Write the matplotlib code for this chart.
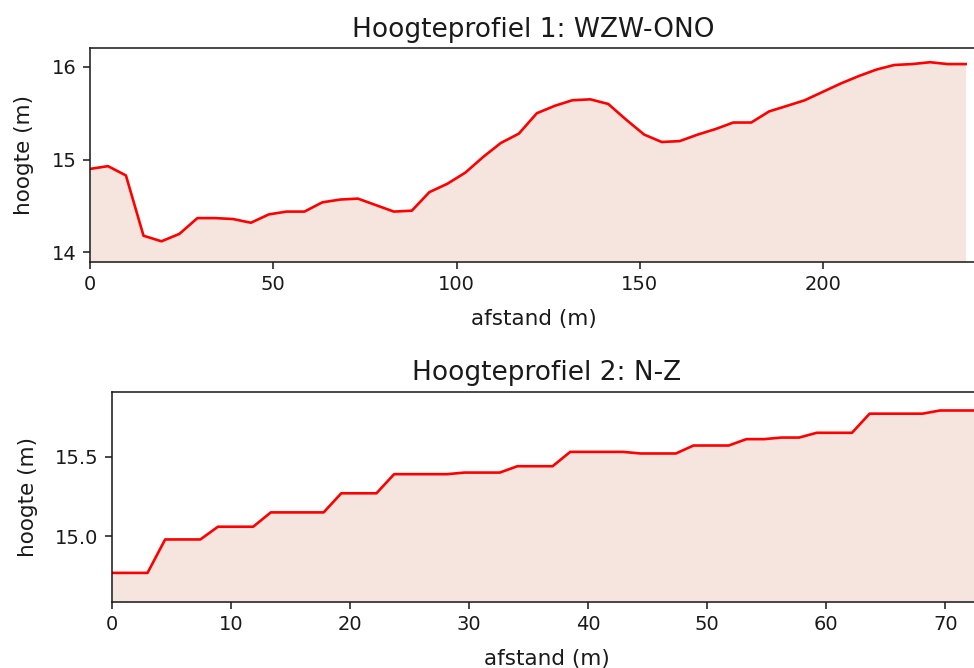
import matplotlib
matplotlib.use("Agg")
import matplotlib.pyplot as plt

# ---- data: profile 1 (WZW-ONO) ----
afstand1 = [0.0, 4.9, 9.8, 14.6, 19.5, 24.4, 29.3, 34.1, 39.0, 43.9, 48.8, 53.6, 58.5,
            63.4, 68.3, 73.1, 78.0, 82.9, 87.8, 92.6, 97.5, 102.4, 107.3, 112.1, 117.0,
            121.9, 126.8, 131.6, 136.5, 141.4, 146.3, 151.2, 156.0, 160.9, 165.8, 170.7,
            175.5, 180.4, 185.3, 190.2, 195.0, 199.9, 204.8, 209.7, 214.5, 219.4, 224.3,
            229.2, 234.0, 238.9]
hoogte1 = [14.90, 14.93, 14.83, 14.18, 14.12, 14.20, 14.37, 14.37, 14.36, 14.32, 14.41,
           14.44, 14.44, 14.54, 14.57, 14.58, 14.51, 14.44, 14.45, 14.65, 14.74, 14.86,
           15.03, 15.18, 15.28, 15.50, 15.58, 15.64, 15.65, 15.60, 15.43, 15.27, 15.19,
           15.20, 15.27, 15.33, 15.40, 15.40, 15.52, 15.58, 15.64, 15.73, 15.82, 15.90,
           15.97, 16.02, 16.03, 16.05, 16.03, 16.03]

# ---- data: profile 2 (N-Z) ----
afstand2 = [0.00, 1.48, 2.96, 4.44, 5.92, 7.40, 8.88, 10.36, 11.84, 13.32, 14.80, 16.28,
            17.76, 19.24, 20.72, 22.20, 23.68, 25.16, 26.64, 28.12, 29.60, 31.08, 32.56,
            34.04, 35.52, 37.00, 38.48, 39.96, 41.44, 42.92, 44.40, 45.88, 47.36, 48.84,
            50.32, 51.80, 53.28, 54.76, 56.24, 57.72, 59.20, 60.68, 62.16, 63.64, 65.12,
            66.60, 68.08, 69.56, 71.04, 72.52]
hoogte2 = [14.77, 14.77, 14.77, 14.98, 14.98, 14.98, 15.06, 15.06, 15.06, 15.15, 15.15,
           15.15, 15.15, 15.27, 15.27, 15.27, 15.39, 15.39, 15.39, 15.39, 15.40, 15.40,
           15.40, 15.44, 15.44, 15.44, 15.53, 15.53, 15.53, 15.53, 15.52, 15.52, 15.52,
           15.57, 15.57, 15.57, 15.61, 15.61, 15.62, 15.62, 15.65, 15.65, 15.65, 15.77,
           15.77, 15.77, 15.77, 15.79, 15.79, 15.79]

titles = ["Hoogteprofiel 1: WZW-ONO", "Hoogteprofiel 2: N-Z"]
xlabel = "afstand (m)"
ylabel = "hoogte (m)"

W, H = 974, 668
fig = plt.figure(figsize=(W / 100, H / 100), dpi=100)

fill_col = "#f6e5df"
line_col = "#ff0000"
txt_col = "#1a1a1a"


def make_axes(left_px, top_px, bottom_px, right_px):
    return fig.add_axes([left_px / W, 1 - bottom_px / H,
                         (right_px - left_px) / W, (bottom_px - top_px) / H])


ax1 = make_axes(90.0, 48.3, 261.7, 977.0)
ax2 = make_axes(112.3, 391.7, 601.7, 981.0)

specs = [
    (ax1, afstand1, hoogte1, (0, 242.0), (13.90, 16.20), [14, 15, 16], ["14", "15", "16"],
     [0, 50, 100, 150, 200]),
    (ax2, afstand2, hoogte2, (0, 73.0), (14.589, 15.908), [15.0, 15.5], ["15.0", "15.5"],
     [0, 10, 20, 30, 40, 50, 60, 70]),
]

for ax, x, y, xl, yl, yt, ytl, xt in specs:
    ax.fill_between(x, y, yl[0], color=fill_col, linewidth=0)
    ax.plot(x, y, color=line_col, linewidth=1.9)
    ax.set_xlim(*xl)
    ax.set_ylim(*yl)
    ax.set_yticks(yt)
    ax.set_yticklabels(ytl)
    ax.set_xticks(xt)
    ax.tick_params(labelsize=14, length=4.9, width=1.12, pad=4.9, colors=txt_col,
                   labelcolor=txt_col)
    for s in ax.spines.values():
        s.set_linewidth(1.12)
        s.set_color(txt_col)
    ax.set_xlabel(xlabel, fontsize=15.5, labelpad=10.5, color=txt_col)
    ax.set_ylabel(ylabel, fontsize=15.5, labelpad=12.5, color=txt_col)

ax1.set_title(titles[0], fontsize=19.0, pad=8.4, color=txt_col)
ax2.set_title(titles[1], fontsize=19.0, pad=8.4, color=txt_col)

fig.savefig("out.png", dpi=100)
